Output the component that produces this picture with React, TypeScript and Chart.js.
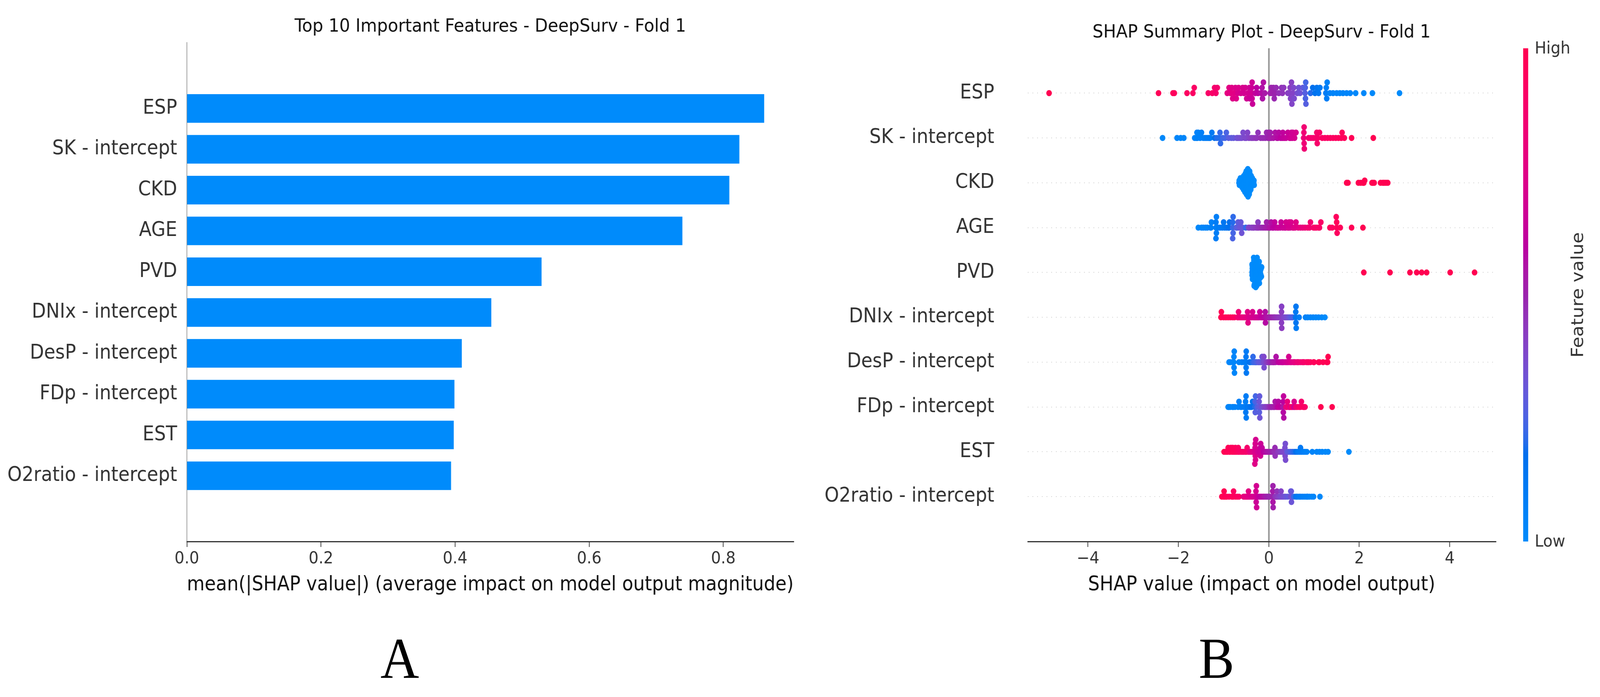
import React, { useEffect, useRef, useState } from 'react';
import { Chart, registerables } from 'chart.js';

Chart.register(...registerables);

// ---------- data ----------
const FEATURES = [
  'ESP',
  'SK - intercept',
  'CKD',
  'AGE',
  'PVD',
  'DNIx - intercept',
  'DesP - intercept',
  'FDp - intercept',
  'EST',
  'O2ratio - intercept',
];
const MEAN_ABS_SHAP = [0.861, 0.824, 0.809, 0.739, 0.529, 0.454, 0.41, 0.399, 0.398, 0.394];
const BAR_X_TICKS = [0, 0.2, 0.4, 0.6, 0.8];
const BAR_X_MAX = 0.905;
const SWARM_X_TICKS = [-4, -2, 0, 2, 4];
const SWARM_X_MIN = -5.33;
const SWARM_X_MAX = 5.01;

const TITLE_A = 'Top 10 Important Features - DeepSurv - Fold 1';
const TITLE_B = 'SHAP Summary Plot - DeepSurv - Fold 1';
const XLABEL_A = 'mean(|SHAP value|) (average impact on model output magnitude)';
const XLABEL_B = 'SHAP value (impact on model output)';
const CB_HIGH = 'High';
const CB_LOW = 'Low';
const CB_LABEL = 'Feature value';
const PANEL_A = 'A';
const PANEL_B = 'B';

// [SHAP value, normalised feature value (0 = low, 1 = high)]
const ESP_POINTS: [number, number][] = [
  [-4.86, 1], [-2.44, 0.97], [-2.12, 0.95], [-2.09, 0.95], [-1.81, 0.93], [-1.68, 0.92], [-1.65, 0.92],
  [-1.34, 0.9], [-1.25, 0.9], [-1.2, 0.88], [-1.17, 0.88], [-1.14, 0.87],
  [-0.92, 0.78], [-0.88, 0.76], [-0.85, 0.77], [-0.82, 0.75], [-0.8, 0.74], [-0.77, 0.76], [-0.74, 0.73],
  [-0.72, 0.74], [-0.69, 0.72], [-0.67, 0.73], [-0.62, 0.7], [-0.58, 0.71], [-0.55, 0.69], [-0.52, 0.7],
  [-0.49, 0.68], [-0.46, 0.69], [-0.43, 0.67], [-0.42, 0.66], [-0.38, 0.68], [-0.38, 0.66], [-0.37, 0.65],
  [-0.37, 0.67], [-0.36, 0.65], [-0.3, 0.62], [-0.27, 0.6], [-0.24, 0.6],
  [-0.17, 0.57], [-0.15, 0.56], [-0.14, 0.55], [-0.12, 0.57], [-0.09, 0.54], [0.03, 0.52], [0.05, 0.5],
  [0.07, 0.51], [0.1, 0.5], [0.12, 0.49], [0.14, 0.5], [0.16, 0.48],
  [0.22, 0.47], [0.28, 0.46], [0.3, 0.45], [0.33, 0.44],
  [0.42, 0.42], [0.45, 0.41], [0.47, 0.42], [0.48, 0.4], [0.5, 0.41], [0.51, 0.39], [0.53, 0.4], [0.55, 0.38], [0.56, 0.37],
  [0.63, 0.35], [0.66, 0.34], [0.69, 0.33],
  [0.75, 0.3], [0.8, 0.27], [0.805, 0.26], [0.81, 0.25], [0.815, 0.24], [0.82, 0.27],
  [0.92, 0.2], [0.97, 0.18], [1.02, 0.16], [1.06, 0.15], [1.1, 0.13], [1.13, 0.12],
  [1.26, 0.1], [1.27, 0.08], [1.28, 0.09], [1.29, 0.07],
  [1.35, 0.06], [1.42, 0.05], [1.5, 0.05], [1.57, 0.04], [1.64, 0.04], [1.72, 0.03], [1.8, 0.03],
  [1.92, 0.02], [2.1, 0.02], [2.29, 0.01], [2.89, 0],
];

const SK_POINTS: [number, number][] = [
  [-2.35, 0.02], [-2.03, 0.03], [-1.95, 0.03], [-1.88, 0.04],
  [-1.64, 0.05], [-1.6, 0.06], [-1.59, 0.05], [-1.58, 0.07], [-1.56, 0.06], [-1.52, 0.07], [-1.49, 0.08],
  [-1.45, 0.08], [-1.41, 0.09], [-1.37, 0.1], [-1.33, 0.1], [-1.3, 0.11], [-1.26, 0.12],
  [-1.2, 0.18], [-1.15, 0.2], [-1.1, 0.2], [-1.08, 0.22], [-1.07, 0.21], [-1.02, 0.23], [-0.97, 0.24], [-0.94, 0.25],
  [-0.89, 0.28], [-0.83, 0.29], [-0.78, 0.3],
  [-0.71, 0.33], [-0.68, 0.34], [-0.64, 0.35], [-0.6, 0.36], [-0.57, 0.37], [-0.53, 0.38], [-0.5, 0.38],
  [-0.47, 0.39], [-0.44, 0.4],
  [-0.39, 0.42], [-0.35, 0.43], [-0.3, 0.44], [-0.27, 0.45], [-0.24, 0.45],
  [-0.18, 0.47], [-0.13, 0.48], [-0.08, 0.48], [-0.05, 0.49], [-0.02, 0.5], [0, 0.5], [0.02, 0.51],
  [0.03, 0.52], [0.05, 0.52],
  [0.1, 0.55], [0.14, 0.56], [0.18, 0.57], [0.2, 0.58], [0.22, 0.58], [0.26, 0.6], [0.3, 0.61], [0.31, 0.62],
  [0.34, 0.63], [0.38, 0.64], [0.42, 0.65], [0.46, 0.66], [0.48, 0.67], [0.5, 0.67], [0.52, 0.68],
  [0.53, 0.68], [0.57, 0.69], [0.6, 0.7],
  [0.77, 0.82], [0.775, 0.84], [0.78, 0.83], [0.78, 0.85], [0.785, 0.84],
  [0.88, 0.86], [0.93, 0.87], [0.98, 0.87], [1.03, 0.88], [1.06, 0.88], [1.07, 0.89], [1.08, 0.89], [1.12, 0.9],
  [1.18, 0.91], [1.24, 0.92], [1.3, 0.92], [1.36, 0.93], [1.42, 0.93], [1.48, 0.94], [1.54, 0.94],
  [1.6, 0.95], [1.62, 0.95], [1.67, 0.96],
  [1.83, 0.98], [2.31, 1],
];

const CKD_POINTS: [number, number][] = [
  [-0.66, 0], [-0.655, 0], [-0.65, 0],
  [-0.63, 0], [-0.625, 0], [-0.62, 0], [-0.63, 0],
  [-0.6, 0], [-0.595, 0], [-0.59, 0], [-0.6, 0], [-0.59, 0],
  [-0.565, 0], [-0.56, 0], [-0.555, 0], [-0.565, 0], [-0.56, 0], [-0.555, 0], [-0.56, 0],
  [-0.53, 0], [-0.525, 0], [-0.53, 0], [-0.52, 0], [-0.535, 0], [-0.525, 0], [-0.53, 0], [-0.52, 0], [-0.53, 0],
  [-0.5, 0], [-0.495, 0], [-0.49, 0], [-0.5, 0], [-0.495, 0], [-0.49, 0], [-0.5, 0], [-0.495, 0], [-0.49, 0],
  [-0.5, 0], [-0.495, 0],
  [-0.465, 0], [-0.46, 0], [-0.465, 0], [-0.455, 0], [-0.47, 0], [-0.46, 0], [-0.465, 0], [-0.46, 0],
  [-0.455, 0], [-0.47, 0], [-0.46, 0], [-0.465, 0], [-0.46, 0],
  [-0.43, 0], [-0.425, 0], [-0.435, 0], [-0.43, 0], [-0.425, 0], [-0.435, 0], [-0.43, 0], [-0.42, 0],
  [-0.43, 0], [-0.425, 0], [-0.435, 0],
  [-0.4, 0], [-0.395, 0], [-0.39, 0], [-0.4, 0], [-0.395, 0], [-0.39, 0], [-0.4, 0],
  [-0.365, 0], [-0.36, 0], [-0.37, 0], [-0.365, 0],
  [-0.335, 0], [-0.33, 0], [-0.325, 0],
  [1.72, 1], [1.75, 1], [1.98, 1], [2.03, 1], [2.08, 1], [2.1, 1], [2.12, 1], [2.28, 1], [2.3, 1],
  [2.33, 1], [2.47, 1], [2.52, 1], [2.55, 1], [2.59, 1], [2.63, 1],
];

const AGE_POINTS: [number, number][] = [
  [-1.56, 0.02], [-1.49, 0.03], [-1.45, 0.04], [-1.4, 0.05], [-1.36, 0.05], [-1.29, 0.06], [-1.28, 0.07], [-1.27, 0.06],
  [-1.17, 0.08], [-1.17, 0.1], [-1.16, 0.09], [-1.16, 0.08], [-1.17, 0.09], [-1.12, 0.1],
  [-1.08, 0.1], [-1.03, 0.12], [-1.0, 0.14], [-0.98, 0.13], [-0.94, 0.15], [-0.9, 0.16],
  [-0.88, 0.17], [-0.87, 0.18],
  [-0.8, 0.22], [-0.8, 0.2], [-0.79, 0.24], [-0.79, 0.21], [-0.8, 0.25],
  [-0.72, 0.27], [-0.7, 0.28], [-0.68, 0.29], [-0.66, 0.3], [-0.63, 0.32], [-0.62, 0.31], [-0.6, 0.33], [-0.58, 0.3],
  [-0.51, 0.22],
  [-0.45, 0.38], [-0.43, 0.4], [-0.38, 0.42], [-0.35, 0.41], [-0.33, 0.43], [-0.28, 0.44], [-0.25, 0.45],
  [-0.24, 0.42], [-0.23, 0.46], [-0.19, 0.47], [-0.15, 0.49],
  [-0.11, 0.5], [-0.07, 0.52], [-0.05, 0.52], [-0.03, 0.53], [0.01, 0.55], [0.03, 0.56], [0.05, 0.57], [0.08, 0.58],
  [0.1, 0.6], [0.13, 0.62], [0.15, 0.6], [0.19, 0.63], [0.21, 0.64], [0.25, 0.64], [0.27, 0.65],
  [0.31, 0.66], [0.35, 0.67], [0.37, 0.66], [0.38, 0.7], [0.42, 0.68], [0.44, 0.7], [0.45, 0.7], [0.47, 0.69],
  [0.49, 0.72], [0.53, 0.71], [0.55, 0.73], [0.58, 0.74],
  [0.6, 0.75], [0.65, 0.76], [0.7, 0.78], [0.75, 0.8], [0.8, 0.82], [0.86, 0.84], [0.9, 0.85], [0.92, 0.86],
  [0.99, 0.88], [1.02, 0.9], [1.05, 0.89], [1.1, 0.9], [1.12, 0.9], [1.15, 0.91],
  [1.35, 0.95], [1.4, 0.93], [1.5, 0.95], [1.5, 0.96], [1.51, 0.94], [1.49, 0.95], [1.58, 0.96],
  [1.83, 0.98], [2.08, 1],
];

const PVD_POINTS: [number, number][] = [
  [-0.37, 0], [-0.365, 0], [-0.36, 0], [-0.355, 0], [-0.37, 0], [-0.365, 0], [-0.36, 0], [-0.355, 0],
  [-0.35, 0], [-0.365, 0], [-0.36, 0], [-0.37, 0],
  [-0.34, 0], [-0.335, 0], [-0.33, 0], [-0.325, 0], [-0.32, 0], [-0.315, 0], [-0.31, 0], [-0.305, 0],
  [-0.34, 0], [-0.335, 0], [-0.33, 0], [-0.325, 0], [-0.32, 0], [-0.315, 0], [-0.31, 0], [-0.305, 0],
  [-0.3, 0], [-0.33, 0], [-0.32, 0], [-0.31, 0], [-0.325, 0], [-0.335, 0],
  [-0.295, 0], [-0.29, 0], [-0.285, 0], [-0.28, 0], [-0.275, 0], [-0.27, 0], [-0.265, 0], [-0.26, 0],
  [-0.255, 0], [-0.25, 0], [-0.295, 0], [-0.29, 0], [-0.285, 0], [-0.28, 0], [-0.275, 0], [-0.27, 0],
  [-0.265, 0], [-0.26, 0], [-0.255, 0], [-0.28, 0], [-0.27, 0], [-0.26, 0], [-0.29, 0],
  [-0.245, 0], [-0.24, 0], [-0.235, 0], [-0.23, 0], [-0.225, 0], [-0.22, 0], [-0.215, 0], [-0.21, 0],
  [-0.205, 0], [-0.245, 0], [-0.24, 0], [-0.235, 0], [-0.23, 0], [-0.225, 0], [-0.22, 0], [-0.215, 0], [-0.21, 0],
  [-0.195, 0], [-0.19, 0], [-0.185, 0], [-0.18, 0], [-0.175, 0], [-0.17, 0], [-0.165, 0], [-0.16, 0], [-0.19, 0],
  [2.1, 1], [2.68, 1], [3.12, 1], [3.27, 1], [3.38, 1], [3.49, 1], [4.01, 1], [4.55, 1],
];

const DNIX_POINTS: [number, number][] = [
  [-1.06, 1], [-1.05, 0.98], [-1.0, 0.97], [-0.95, 0.97], [-0.9, 0.96], [-0.85, 0.95], [-0.8, 0.95], [-0.76, 0.93],
  [-0.69, 0.85], [-0.68, 0.85], [-0.67, 0.83], [-0.64, 0.82], [-0.61, 0.8], [-0.58, 0.8], [-0.55, 0.79],
  [-0.52, 0.78], [-0.49, 0.77], [-0.47, 0.76], [-0.47, 0.75], [-0.46, 0.76],
  [-0.43, 0.74], [-0.42, 0.72], [-0.4, 0.73], [-0.38, 0.71], [-0.36, 0.72], [-0.34, 0.7], [-0.32, 0.69],
  [-0.3, 0.7], [-0.28, 0.68], [-0.26, 0.67], [-0.24, 0.68], [-0.22, 0.66], [-0.2, 0.65], [-0.18, 0.64],
  [-0.16, 0.63], [-0.14, 0.62], [-0.12, 0.6], [-0.1, 0.6], [-0.08, 0.58], [-0.08, 0.57], [-0.075, 0.58],
  [-0.05, 0.56], [-0.02, 0.55], [0.01, 0.54], [0.04, 0.52], [0.07, 0.5], [0.1, 0.49], [0.12, 0.48],
  [0.14, 0.47], [0.17, 0.46], [0.2, 0.45], [0.23, 0.44], [0.27, 0.43], [0.28, 0.42], [0.28, 0.42],
  [0.282, 0.41], [0.285, 0.43], [0.32, 0.4], [0.35, 0.38], [0.38, 0.37],
  [0.41, 0.35], [0.44, 0.33], [0.47, 0.3], [0.5, 0.28], [0.53, 0.25],
  [0.59, 0.15], [0.595, 0.12], [0.6, 0.14], [0.6, 0.13], [0.605, 0.1], [0.67, 0.1],
  [0.81, 0.06], [0.86, 0.05], [0.92, 0.05], [0.98, 0.04], [1.04, 0.03], [1.1, 0.03], [1.17, 0.02], [1.24, 0],
];

const DESP_POINTS: [number, number][] = [
  [-0.88, 0.02], [-0.85, 0.03], [-0.8, 0.03], [-0.775, 0.04], [-0.772, 0.03], [-0.77, 0.05], [-0.765, 0.04], [-0.76, 0.03],
  [-0.66, 0.06], [-0.6, 0.07], [-0.55, 0.1], [-0.51, 0.1], [-0.505, 0.12], [-0.503, 0.11], [-0.5, 0.1], [-0.497, 0.12],
  [-0.43, 0.15], [-0.4, 0.16], [-0.36, 0.2], [-0.35, 0.21], [-0.33, 0.22], [-0.3, 0.24], [-0.29, 0.23],
  [-0.27, 0.25], [-0.24, 0.27], [-0.22, 0.28], [-0.21, 0.3], [-0.18, 0.3], [-0.16, 0.31], [-0.15, 0.33],
  [-0.12, 0.35], [-0.11, 0.38], [-0.105, 0.36], [-0.1, 0.36], [-0.06, 0.4], [-0.04, 0.41], [-0.03, 0.42],
  [0, 0.45], [0.02, 0.46], [0.03, 0.48], [0.06, 0.5], [0.09, 0.52], [0.1, 0.53], [0.12, 0.54], [0.15, 0.55], [0.16, 0.56],
  [0.21, 0.6], [0.25, 0.62], [0.29, 0.63], [0.3, 0.64], [0.33, 0.65], [0.37, 0.67], [0.4, 0.68], [0.43, 0.7],
  [0.44, 0.7], [0.47, 0.72], [0.5, 0.74], [0.54, 0.75], [0.56, 0.76], [0.58, 0.78], [0.62, 0.8], [0.64, 0.82],
  [0.66, 0.82], [0.7, 0.84], [0.74, 0.86], [0.76, 0.87], [0.78, 0.88], [0.83, 0.9], [0.86, 0.9], [0.88, 0.92], [0.92, 0.93],
  [0.99, 0.95], [1.0, 0.96], [1.1, 0.97], [1.12, 0.98], [1.2, 0.98], [1.28, 1], [1.3, 0.99], [1.31, 1],
];

const FDP_POINTS: [number, number][] = [
  [-0.9, 0.03], [-0.88, 0.04], [-0.85, 0.05], [-0.8, 0.04], [-0.79, 0.05], [-0.75, 0.06],
  [-0.68, 0.06], [-0.66, 0.07], [-0.62, 0.05], [-0.61, 0.08],
  [-0.56, 0.1], [-0.52, 0.1], [-0.515, 0.09], [-0.51, 0.12], [-0.505, 0.1], [-0.5, 0.11], [-0.47, 0.14],
  [-0.45, 0.12], [-0.42, 0.15], [-0.4, 0.16], [-0.38, 0.18], [-0.36, 0.17],
  [-0.31, 0.2], [-0.305, 0.25], [-0.3, 0.27], [-0.295, 0.24], [-0.26, 0.26],
  [-0.22, 0.3], [-0.215, 0.32], [-0.21, 0.28], [-0.205, 0.3], [-0.2, 0.33],
  [-0.16, 0.34], [-0.14, 0.35], [-0.1, 0.38], [-0.08, 0.4], [-0.06, 0.4], [-0.03, 0.42], [0, 0.45],
  [0.03, 0.48], [0.05, 0.49], [0.06, 0.5], [0.09, 0.52], [0.11, 0.5], [0.13, 0.53], [0.14, 0.55], [0.17, 0.56],
  [0.2, 0.6], [0.21, 0.58], [0.23, 0.62], [0.26, 0.6],
  [0.31, 0.55], [0.315, 0.6], [0.32, 0.58], [0.325, 0.62], [0.33, 0.57],
  [0.38, 0.85], [0.4, 0.78], [0.41, 0.8], [0.44, 0.88], [0.46, 0.82], [0.47, 0.75], [0.5, 0.85], [0.52, 0.9],
  [0.55, 0.7], [0.56, 0.72], [0.57, 0.68], [0.6, 0.86],
  [0.63, 0.85], [0.67, 0.9], [0.7, 0.9], [0.72, 0.88], [0.76, 0.92], [0.78, 0.94], [0.8, 0.9],
  [1.15, 1], [1.4, 1],
];

const EST_POINTS: [number, number][] = [
  [-0.99, 1], [-0.96, 0.98], [-0.93, 0.99], [-0.92, 0.97], [-0.9, 0.97], [-0.87, 0.98], [-0.86, 0.96],
  [-0.84, 0.96], [-0.81, 0.97], [-0.8, 0.95], [-0.78, 0.95], [-0.75, 0.96], [-0.74, 0.95], [-0.72, 0.94],
  [-0.68, 0.93], [-0.675, 0.92], [-0.67, 0.93],
  [-0.64, 0.9], [-0.6, 0.91], [-0.58, 0.9], [-0.56, 0.89], [-0.52, 0.9], [-0.5, 0.88], [-0.48, 0.88], [-0.45, 0.87],
  [-0.42, 0.8], [-0.39, 0.78], [-0.36, 0.76], [-0.34, 0.75],
  [-0.31, 0.72], [-0.305, 0.7], [-0.3, 0.74], [-0.3, 0.71], [-0.295, 0.73], [-0.29, 0.7], [-0.31, 0.75],
  [-0.26, 0.7], [-0.23, 0.68],
  [-0.195, 0.66], [-0.19, 0.65], [-0.185, 0.68], [-0.18, 0.66], [-0.175, 0.67],
  [-0.15, 0.62], [-0.12, 0.6], [-0.08, 0.58], [-0.05, 0.56], [-0.02, 0.55], [0.01, 0.53], [0.04, 0.52],
  [0.07, 0.5], [0.1, 0.49], [0.12, 0.48], [0.13, 0.47], [0.135, 0.48], [0.14, 0.46],
  [0.2, 0.44], [0.24, 0.42], [0.28, 0.4], [0.31, 0.38],
  [0.35, 0.38], [0.355, 0.36], [0.36, 0.37], [0.365, 0.35], [0.37, 0.36],
  [0.4, 0.3], [0.44, 0.28], [0.48, 0.25], [0.52, 0.22], [0.56, 0.2], [0.6, 0.18],
  [0.64, 0.12], [0.68, 0.1], [0.7, 0.12], [0.72, 0.1], [0.76, 0.08], [0.8, 0.07], [0.84, 0.06],
  [0.96, 0.05], [1.06, 0.04], [1.12, 0.03], [1.18, 0.03], [1.25, 0.02], [1.31, 0.02],
  [1.77, 0],
];

const O2RATIO_POINTS: [number, number][] = [
  [-1.04, 1], [-1.0, 0.98], [-0.99, 0.99], [-0.98, 0.97], [-0.95, 0.98], [-0.93, 0.96],
  [-0.88, 0.95], [-0.82, 0.95], [-0.8, 0.94], [-0.79, 0.95], [-0.78, 0.93], [-0.74, 0.94], [-0.7, 0.93], [-0.66, 0.92],
  [-0.56, 0.8], [-0.54, 0.78], [-0.51, 0.8], [-0.5, 0.78], [-0.48, 0.77], [-0.46, 0.75], [-0.45, 0.76], [-0.43, 0.75],
  [-0.4, 0.73], [-0.37, 0.72], [-0.34, 0.7],
  [-0.29, 0.68], [-0.285, 0.7], [-0.28, 0.66], [-0.275, 0.69], [-0.27, 0.67],
  [-0.24, 0.65], [-0.21, 0.62], [-0.18, 0.6], [-0.15, 0.58], [-0.12, 0.57], [-0.1, 0.55], [-0.07, 0.53],
  [-0.05, 0.52], [-0.02, 0.5], [0, 0.5], [0.02, 0.49],
  [0.08, 0.5], [0.085, 0.53], [0.09, 0.55], [0.09, 0.51], [0.095, 0.52],
  [0.14, 0.45], [0.17, 0.44], [0.18, 0.46], [0.2, 0.42], [0.23, 0.4], [0.26, 0.38], [0.27, 0.4], [0.29, 0.37],
  [0.32, 0.35], [0.35, 0.34], [0.38, 0.32], [0.42, 0.3],
  [0.48, 0.33], [0.485, 0.3], [0.49, 0.35], [0.495, 0.31], [0.5, 0.32],
  [0.55, 0.22], [0.6, 0.15], [0.63, 0.12], [0.67, 0.1], [0.7, 0.1], [0.74, 0.08], [0.78, 0.07], [0.82, 0.06],
  [0.85, 0.05], [0.86, 0.06], [0.9, 0.05], [0.95, 0.04], [0.99, 0.03],
  [1.13, 0.02],
];

const SWARM_ROWS = [
  ESP_POINTS, SK_POINTS, CKD_POINTS, AGE_POINTS, PVD_POINTS,
  DNIX_POINTS, DESP_POINTS, FDP_POINTS, EST_POINTS, O2RATIO_POINTS,
];

// ---------- helpers ----------
const FONT = '"DejaVu Sans", "Liberation Sans", sans-serif';
const DESIGN_W = 4435;
const DESIGN_H = 1784;

function lch2rgb(L: number, C: number, h: number): string {
  const a = C * Math.cos(h);
  const b = C * Math.sin(h);
  const fy = (L + 16) / 116;
  const fx = fy + a / 500;
  const fz = fy - b / 200;
  const finv = (t: number) => (t * t * t > 0.008856 ? t * t * t : (t - 16 / 116) / 7.787);
  const X = 0.95047 * finv(fx);
  const Y = finv(fy);
  const Z = 1.08883 * finv(fz);
  const r = 3.2404542 * X - 1.5371385 * Y - 0.4985314 * Z;
  const g = -0.969266 * X + 1.8760108 * Y + 0.041556 * Z;
  const bl = 0.0556434 * X - 0.2040259 * Y + 1.0572252 * Z;
  const gam = (c: number) => {
    const v = c <= 0.0031308 ? 12.92 * c : 1.055 * Math.pow(Math.max(c, 0), 1 / 2.4) - 0.055;
    return Math.round(Math.min(1, Math.max(0, v)) * 255);
  };
  return `rgb(${gam(r)},${gam(g)},${gam(bl)})`;
}

// shap "red_blue" colour map (LCH interpolation)
function shapColor(t: number): string {
  const L = t < 0.5 ? 54 + (40 - 54) * (t / 0.5) : 40 + (54 - 40) * ((t - 0.5) / 0.5);
  const C = 70 + 20 * t;
  const h0 = 4.6588;
  const h1 = 0.35470565 + 2 * Math.PI;
  return lch2rgb(L, C, h0 + (h1 - h0) * t);
}

// shap beeswarm layout (binned stacking)
function beeswarm(xs: number[], rowHeight = 0.4): number[] {
  const nbins = 100;
  const mn = Math.min(...xs);
  const mx = Math.max(...xs);
  const quant = xs.map((x) => Math.round((nbins * (x - mn)) / (mx - mn + 1e-8)));
  const inds = xs.map((_, i) => i).sort((a, b) => quant[a] - quant[b] || a - b);
  const ys = new Array(xs.length).fill(0);
  let layer = 0;
  let last = -1;
  for (const ind of inds) {
    if (quant[ind] !== last) layer = 0;
    ys[ind] = Math.ceil(layer / 2) * ((layer % 2) * 2 - 1);
    layer += 1;
    last = quant[ind];
  }
  const m = Math.max(...ys.map((y) => y + 1));
  return ys.map((y) => y * 0.9 * (rowHeight / m));
}

const ROW_POSITIONS = FEATURES.map((_, i) => FEATURES.length - 1 - i);
const labelFor = (v: number) => {
  const i = FEATURES.length - 1 - Math.round(v);
  return FEATURES[i] ?? '';
};

const colorbarPlugin = {
  id: 'shapColorbar',
  afterDraw(chart: any) {
    const { ctx, chartArea } = chart;
    const x = chartArea.right + 77;
    const w = 14;
    const top = chartArea.top;
    const bottom = chartArea.bottom;
    ctx.save();
    const grad = ctx.createLinearGradient(0, bottom, 0, top);
    for (let i = 0; i <= 40; i++) grad.addColorStop(i / 40, shapColor(i / 40));
    ctx.fillStyle = grad;
    ctx.fillRect(x, top, w, bottom - top);
    ctx.fillStyle = '#333333';
    ctx.font = `43px ${FONT}`;
    ctx.textAlign = 'left';
    ctx.textBaseline = 'middle';
    ctx.fillText(CB_HIGH, x + w + 18, top + 2);
    ctx.fillText(CB_LOW, x + w + 18, bottom + 2);
    ctx.translate(x + w + 140, (top + bottom) / 2);
    ctx.rotate(-Math.PI / 2);
    ctx.textAlign = 'center';
    ctx.font = `47px ${FONT}`;
    ctx.fillText(CB_LABEL, 0, 0);
    ctx.restore();
  },
};

function titleOpts(text: string) {
  return {
    display: true,
    text,
    fullSize: false,
    color: '#111111',
    font: { family: FONT, size: 47, weight: 'normal' as const },
    padding: { top: 41, bottom: 12 },
  };
}

function makeBarConfig(): any {
  return {
    type: 'bar',
    data: {
      datasets: [
        {
          data: MEAN_ABS_SHAP.map((v, i) => ({ x: v, y: ROW_POSITIONS[i] })),
          backgroundColor: shapColor(0),
          borderWidth: 0,
          categoryPercentage: 0.7,
          barPercentage: 1,
        },
      ],
    },
    options: {
      indexAxis: 'y',
      responsive: false,
      animation: false,
      devicePixelRatio: 1,
      events: [],
      layout: { padding: { left: 0, right: 100, top: 0, bottom: 0 } },
      plugins: {
        legend: { display: false },
        tooltip: { enabled: false },
        title: titleOpts(TITLE_A),
      },
      scales: {
        y: {
          type: 'linear',
          min: -1,
          max: 10,
          afterBuildTicks: (s: any) => {
            s.ticks = ROW_POSITIONS.map((v) => ({ value: v }));
          },
          afterFit: (s: any) => {
            s.width = 518;
          },
          ticks: {
            callback: (v: number) => labelFor(v),
            font: { family: FONT, size: 51 },
            color: '#333333',
            padding: 27,
          },
          grid: { display: false, drawTicks: false },
          border: { display: true, color: '#9a9a9a', width: 2 },
        },
        x: {
          type: 'linear',
          min: 0,
          max: BAR_X_MAX,
          afterBuildTicks: (s: any) => {
            s.ticks = BAR_X_TICKS.map((v) => ({ value: v }));
          },
          afterFit: (s: any) => {
            s.height = 154;
          },
          ticks: {
            callback: (v: number) => Number(v).toFixed(1),
            font: { family: FONT, size: 43 },
            color: '#333333',
            padding: 5,
            maxRotation: 0,
          },
          grid: {
            display: true,
            drawOnChartArea: false,
            drawTicks: true,
            tickLength: 14,
            tickColor: '#333333',
            tickWidth: 2,
          },
          border: { display: true, color: '#333333', width: 3 },
          title: {
            display: true,
            text: XLABEL_A,
            color: '#111111',
            font: { family: FONT, size: 51 },
            padding: { top: 0, bottom: 12 },
          },
        },
      },
    },
  };
}

// chart B canvas starts 50 px left of the panel split so long labels are not clipped
const B_LEFT = 2250;
const B_WIDTH = DESIGN_W - B_LEFT;

function makeSwarmConfig(): any {
  const datasets = SWARM_ROWS.map((pts, i) => {
    const offs = beeswarm(pts.map((p) => p[0]));
    return {
      data: pts.map((p, k) => ({ x: p[0], y: ROW_POSITIONS[i] + offs[k] })),
      backgroundColor: pts.map((p) => shapColor(p[1])),
      borderWidth: 0,
      pointRadius: 7.8,
      pointHoverRadius: 7.8,
    };
  }).reverse();
  return {
    type: 'scatter',
    data: { datasets },
    options: {
      responsive: false,
      animation: false,
      devicePixelRatio: 1,
      events: [],
      layout: { padding: { left: 0, right: 290, top: 0, bottom: 0 } },
      plugins: {
        legend: { display: false },
        tooltip: { enabled: false },
        title: titleOpts(TITLE_B),
      },
      scales: {
        y: {
          type: 'linear',
          min: -1,
          max: 10,
          afterBuildTicks: (s: any) => {
            s.ticks = ROW_POSITIONS.map((v) => ({ value: v }));
          },
          afterFit: (s: any) => {
            s.width = 2849 - B_LEFT;
          },
          ticks: {
            callback: (v: number) => labelFor(v),
            font: { family: FONT, size: 51 },
            color: '#333333',
            padding: 93,
          },
          grid: { display: true, drawTicks: false, color: '#cccccc', lineWidth: 2 },
          border: { display: false, dash: [2, 11] },
        },
        x: {
          type: 'linear',
          min: SWARM_X_MIN,
          max: SWARM_X_MAX,
          afterBuildTicks: (s: any) => {
            s.ticks = SWARM_X_TICKS.map((v) => ({ value: v }));
          },
          afterFit: (s: any) => {
            s.height = 154;
          },
          ticks: {
            callback: (v: number) => (v < 0 ? '\u2212' + Math.abs(v) : String(v)),
            font: { family: FONT, size: 43 },
            color: '#333333',
            padding: 5,
            maxRotation: 0,
          },
          grid: {
            display: true,
            drawOnChartArea: true,
            drawTicks: true,
            color: (c: any) => (c.tick && c.tick.value === 0 ? '#999999' : 'rgba(0,0,0,0)'),
            lineWidth: 4.5,
            tickLength: 14,
            tickColor: '#333333',
            tickWidth: 2,
          },
          border: { display: true, color: '#333333', width: 3 },
          title: {
            display: true,
            text: XLABEL_B,
            color: '#111111',
            font: { family: FONT, size: 51 },
            padding: { top: 0, bottom: 12 },
          },
        },
      },
    },
    plugins: [colorbarPlugin],
  };
}

const panelLetterStyle = (cx: number): React.CSSProperties => ({
  position: 'absolute',
  left: cx,
  top: 1685,
  transform: 'translate(-50%, -50%)',
  fontFamily: '"Liberation Serif", "DejaVu Serif", serif',
  fontSize: 148,
  lineHeight: 1,
  color: '#000000',
});

export default function App() {
  const refA = useRef<HTMLCanvasElement>(null);
  const refB = useRef<HTMLCanvasElement>(null);
  // fit the 4435x1784 design to whatever viewport the page is given
  const [fit] = useState(() => {
    const w = window.innerWidth || DESIGN_W;
    const h = window.innerHeight || DESIGN_H;
    return { sx: w / DESIGN_W, sy: h / DESIGN_H };
  });

  useEffect(() => {
    document.body.style.margin = '0';
    document.body.style.overflow = 'hidden';
    const a = new Chart(refA.current as HTMLCanvasElement, makeBarConfig());
    const b = new Chart(refB.current as HTMLCanvasElement, makeSwarmConfig());
    return () => {
      a.destroy();
      b.destroy();
    };
  }, []);

  return (
    <div style={{ position: 'relative', width: '100vw', height: '100vh', overflow: 'hidden', background: '#ffffff' }}>
      <div
        style={{
          position: 'absolute',
          left: 0,
          top: 0,
          width: DESIGN_W,
          height: DESIGN_H,
          transform: `scale(${fit.sx}, ${fit.sy})`,
          transformOrigin: '0 0',
          background: '#ffffff',
        }}
      >
        <canvas
          ref={refA}
          width={2300}
          height={1540}
          style={{ position: 'absolute', left: 0, top: 0, width: 2300, height: 1540 }}
        />
        <canvas
          ref={refB}
          width={B_WIDTH}
          height={1540}
          style={{ position: 'absolute', left: B_LEFT, top: 0, width: B_WIDTH, height: 1540 }}
        />
        <div style={panelLetterStyle(1108)}>{PANEL_A}</div>
        <div style={panelLetterStyle(3372)}>{PANEL_B}</div>
      </div>
    </div>
  );
}
